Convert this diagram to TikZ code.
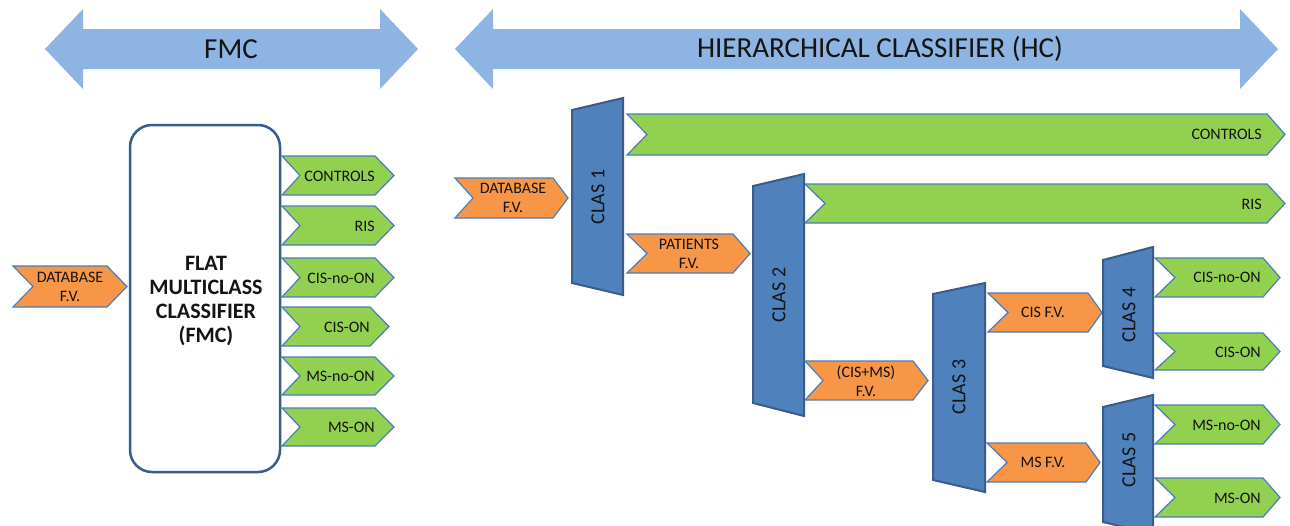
\documentclass[tikz,border=0pt]{standalone}
\usepackage{fontspec}
\setmainfont{Carlito}
\definecolor{arrowblue}{HTML}{8DB4E2}
\definecolor{clasblue}{HTML}{4F81BD}
\definecolor{clasedge}{HTML}{385D8A}
\definecolor{chevgreen}{HTML}{92D050}
\definecolor{chevorange}{HTML}{F79646}
\definecolor{chevedge}{HTML}{4A7EBB}
\definecolor{txt}{HTML}{141414}
\tikzset{
  bigarrow/.style={fill=arrowblue, draw=none},
  greenchev/.style={fill=chevgreen, draw=chevedge, line width=1.2pt, line join=miter},
  orangechev/.style={fill=chevorange, draw=chevedge, line width=1.2pt, line join=miter},
  clasbox/.style={fill=clasblue, draw=clasedge, line width=2pt, line join=miter},
  fmcbox/.style={draw=clasedge, line width=2.5pt, rounded corners=22pt, fill=white},
  lbl/.style={text=txt, font=\fontsize{16}{19}\selectfont, inner sep=0pt, align=center},
  rlbl/.style={text=txt, font=\fontsize{16}{19}\selectfont, inner sep=0pt, anchor=east},
  claslbl/.style={text=txt, font=\fontsize{20}{22}\selectfont, inner sep=0pt, rotate=90},
  title/.style={text=txt, font=\fontsize{29}{32}\selectfont, inner sep=0pt}
}
% #1 style, #2 left x, #3 notch x, #4 head x, #5 tip x, #6 top y, #7 bottom y
\newcommand{\chv}[7]{\path[#1] (#2,#6) -- (#4,#6) -- (#5,{(#6+#7)/2}) -- (#4,#7) -- (#2,#7) -- (#3,{(#6+#7)/2}) -- cycle;}
% #1 left x, #2 right x, #3 TL, #4 TR, #5 BL, #6 BR
\newcommand{\trap}[6]{\path[clasbox] (#1,#3) -- (#2,#4) -- (#2,#6) -- (#1,#5) -- cycle;}
% double arrow: #1 left tip, #2 right tip, #3 centre y
\newcommand{\dblarrow}[3]{\path[bigarrow] (#1,#3) -- ({#1+38},{#3-40}) -- ({#1+38},{#3-20}) -- ({#2-38},{#3-20}) -- ({#2-38},{#3-40}) -- (#2,#3) -- ({#2-38},{#3+40}) -- ({#2-38},{#3+20}) -- ({#1+38},{#3+20}) -- ({#1+38},{#3+40}) -- cycle;}
\begin{document}
\begin{tikzpicture}[x=1pt,y=-1pt]
\useasboundingbox (0,0) rectangle (1290,525);
\clip (0,0) rectangle (1290,525);
\fill[white] (0,0) rectangle (1290,525);

% top arrows
\dblarrow{45}{418}{49}
\node[title] (tfmc) at (231,49) {FMC};
\dblarrow{455}{1278}{49}
\node[title] (thc) at (880,49) {HIERARCHICAL CLASSIFIER (HC)};

% ---------- FMC part ----------
\chv{orangechev}{13}{33}{107}{127}{266}{307}
\node[lbl] (fdb) at (70,287) {DATABASE\\F.V.};

\path[fmcbox] (130,125) rectangle (280,472);
\node[text=txt, font=\bfseries\fontsize{22}{24}\selectfont, align=center, inner sep=0pt] (fmc) at (206,301) {FLAT\\MULTICLASS\\CLASSIFIER\\(FMC)};

\chv{greenchev}{282}{300}{375}{394}{156}{195}
\node[rlbl] (f1) at (375,176) {CONTROLS};
\chv{greenchev}{282}{300}{375}{394}{206}{245}
\node[rlbl] (f2) at (375,226) {RIS};
\chv{greenchev}{282}{300}{375}{394}{258}{297}
\node[rlbl] (f3) at (375,278) {CIS-no-ON};
\chv{greenchev}{282}{300}{370}{389}{307}{346}
\node[rlbl] (f4) at (370,327) {CIS-ON};
\chv{greenchev}{282}{300}{375}{394}{357}{395}
\node[rlbl] (f5) at (375,376) {MS-no-ON};
\chv{greenchev}{282}{300}{375}{394}{408}{446}
\node[rlbl] (f6) at (375,427) {MS-ON};

% ---------- HC part ----------
\chv{orangechev}{455}{473}{553}{568}{178}{218}
\node[lbl] (hdb) at (513,198) {DATABASE\\F.V.};

\chv{greenchev}{627}{647}{1267}{1285}{114}{155}
\node[rlbl] (hc1) at (1262,134) {CONTROLS};
\trap{572}{623}{110}{98}{283}{295}
\node[claslbl] (c1) at (598,197) {CLAS 1};

\chv{orangechev}{627}{647}{733}{750}{234}{273}
\node[lbl] (pat) at (689,254) {PATIENTS\\F.V.};

\chv{greenchev}{805}{825}{1267}{1285}{184}{223}
\node[rlbl] (hc2) at (1262,204) {RIS};
\trap{753}{804}{186}{174}{403}{416}
\node[claslbl] (c2) at (779,295) {CLAS 2};

\chv{orangechev}{805}{823}{913}{928}{361}{400}
\node[lbl] (cm) at (866,381) {(CIS+MS)\\F.V.};

\trap{933}{985}{294}{283}{480}{492}
\node[claslbl] (c3) at (959,387) {CLAS 3};

\chv{orangechev}{988}{1008}{1088}{1102}{293}{332}
\node[lbl] (cisfv) at (1043,312) {CIS F.V.};
\chv{orangechev}{987}{1007}{1086}{1100}{443}{482}
\node[lbl] (msfv) at (1043,462) {MS F.V.};

\trap{1103}{1153}{260}{247}{366}{378}
\node[claslbl] (c4) at (1129,315) {CLAS 4};
\trap{1103}{1153}{407}{395}{522}{534}
\node[claslbl] (c5) at (1129,460) {CLAS 5};

\chv{greenchev}{1155}{1175}{1263}{1280}{258}{297}
\node[rlbl] (o1) at (1261,277) {CIS-no-ON};
\chv{greenchev}{1155}{1175}{1263}{1280}{333}{370}
\node[rlbl] (o2) at (1261,352) {CIS-ON};
\chv{greenchev}{1155}{1175}{1263}{1280}{405}{444}
\node[rlbl] (o3) at (1261,425) {MS-no-ON};
\chv{greenchev}{1155}{1175}{1263}{1280}{478}{517}
\node[rlbl] (o4) at (1261,498) {MS-ON};
\end{tikzpicture}
\end{document}
